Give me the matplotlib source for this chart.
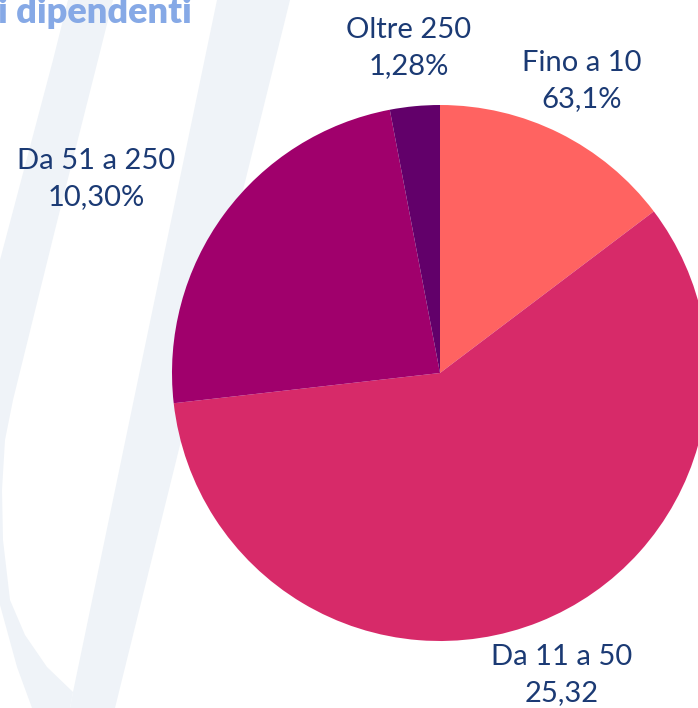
import matplotlib
matplotlib.use('Agg')
import matplotlib.pyplot as plt
import numpy as np

# slice sizes as drawn (share of the circle), clockwise from 12 o'clock
categories = ['Fino a 10', 'Da 11 a 50', 'Da 51 a 250', 'Oltre 250']
shares = [14.7, 58.5, 23.8, 3.0]
# percentages printed on the chart (as written in the original)
printed = ['63,1%', '25,32', '10,30%', '1,28%']
colors = ['#FF6361', '#D72A69', '#A0006C', '#62006A']

TITLE = 'i dipendenti'
TEXT_COLOR = '#1B3A74'
TITLE_COLOR = '#86A9E6'
BAND_COLOR = '#EFF3F8'

plt.rcParams['font.family'] = ['Lato', 'DejaVu Sans']

fig = plt.figure(figsize=(6.98, 7.08), dpi=100)
ax = fig.add_axes([0, 0, 1, 1])

# faint background watermark (curved stroke + diagonal stroke)
inner = [(113, 0), (98, 60), (55, 230), (13, 400), (5, 440), (2, 490), (3, 540),
         (10, 600), (25, 635), (47, 667), (73, 692)]
outer = [(70, 708), (32, 708), (17, 667), (0, 605), (-25, 540), (-30, 420),
         (0, 260), (53, 60), (68, 0)]
band_a = inner + outer
ax.fill([p[0] for p in band_a], [p[1] for p in band_a], color=BAND_COLOR, lw=0, zorder=0)
band_b = [(217, 0), (290, 0), (115, 708), (70, 708), (73, 692)]
ax.fill([p[0] for p in band_b], [p[1] for p in band_b], color=BAND_COLOR, lw=0, zorder=0)

# pie, y axis is inverted (pixel coords), so the angle runs the other way
ax.pie(shares, colors=colors, startangle=-90, counterclock=True,
       center=(440, 373), radius=268, frame=True,
       wedgeprops=dict(linewidth=0, antialiased=True))

ax.set_xlim(0, 698)
ax.set_ylim(708, 0)
ax.set_aspect('equal')
ax.axis('off')

label_pos = [(582, 81), (562, 675), (96, 179), (409, 48)]
for name, pct, (x, y) in zip(categories, printed, label_pos):
    ax.text(x, y, f'{name}\n{pct}', ha='center', va='center', fontsize=21,
            color=TEXT_COLOR, linespacing=1.5)

ax.text(-2, 23, TITLE, ha='left', va='baseline', fontsize=26, fontweight='heavy',
        color=TITLE_COLOR)

fig.savefig('out.png', dpi=100)
